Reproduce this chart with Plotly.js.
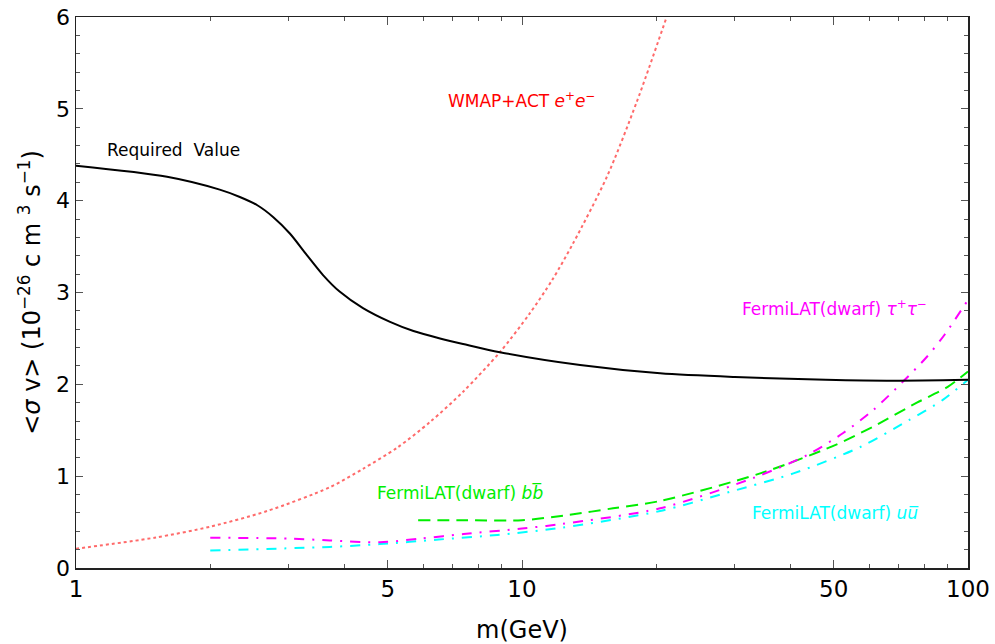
<!DOCTYPE html>
<html>
<head>
<meta charset="utf-8">
<script src="https://cdn.plot.ly/plotly-3.0.1.min.js"></script>
<style>html,body{margin:0;padding:0;background:#fff;}#chart{width:995px;height:644px;}</style>
</head>
<body>
<div id="chart"></div>
<script>
// Required relic value (black solid)
const reqM = [1, 1.6, 2.1, 2.33, 2.55, 2.77, 3.02, 3.29, 3.58, 3.9, 4.4, 5.06, 5.71, 6.55, 7.38, 8.92, 13.5, 20.4, 30, 48, 68, 100];
const reqY = [4.38, 4.26, 4.12, 4.04, 3.95, 3.82, 3.64, 3.41, 3.19, 3.01, 2.83, 2.68, 2.58, 2.50, 2.44, 2.35, 2.21, 2.12, 2.08, 2.05, 2.04, 2.05];

// WMAP+ACT e+e- (red dotted)
const wmapM = [1, 1.5, 2.0, 2.68, 3.71, 4.4, 5.25, 6.22, 7.38, 8.92, 10.4, 11.7, 13.0, 15.5, 18.1, 21.1];
const wmapY = [0.21, 0.33, 0.45, 0.62, 0.88, 1.08, 1.31, 1.59, 1.92, 2.35, 2.77, 3.14, 3.53, 4.26, 5.08, 6.0];

// FermiLAT dwarf b bbar (green dashed)
const bbM = [5.85, 7.5, 10, 12.8, 16, 20.4, 34.2, 49.9, 61.3, 76.8, 89.9, 100];
const bbY = [0.52, 0.52, 0.52, 0.58, 0.65, 0.73, 1.03, 1.33, 1.54, 1.80, 1.97, 2.14];

// FermiLAT dwarf tau+ tau- (magenta dash-dot)
const tauM = [2.0, 3.0, 3.71, 4.8, 5.9, 7.4, 10, 12.3, 20.4, 33, 43.6, 52.5, 61.3, 71.5, 80.9, 88.6, 100];
const tauY = [0.33, 0.32, 0.30, 0.28, 0.32, 0.37, 0.43, 0.48, 0.65, 0.98, 1.23, 1.47, 1.72, 2.03, 2.30, 2.54, 2.92];

// FermiLAT dwarf u ubar (cyan dash-dot)
const uuM = [2.0, 3.71, 4.8, 6.5, 8.8, 12.3, 20.4, 28.8, 40.6, 57.5, 73.7, 87.8, 100];
const uuY = [0.19, 0.23, 0.26, 0.31, 0.36, 0.44, 0.62, 0.82, 1.03, 1.32, 1.61, 1.83, 2.05];

const xMajor = [1, 5, 10, 50, 100];
const xMajorText = ['1', '5', '10', '50', '100'];
const xMinor = [2, 3, 4, 6, 7, 8, 9, 20, 30, 40, 60, 70, 80, 90];

const FONT = 'DejaVu Sans, sans-serif';

const traces = [
  {x: wmapM, y: wmapY, mode: 'lines', line: {color: '#ff6a6a', width: 2, dash: 'dot', shape: 'spline', smoothing: 0.8}},
  {x: bbM, y: bbY, mode: 'lines', line: {color: '#00ee00', width: 2, dash: '12px,7px', shape: 'spline', smoothing: 0.8}},
  {x: uuM, y: uuY, mode: 'lines', line: {color: '#00ffff', width: 2, dash: '10px,8px,2px,8px', shape: 'spline', smoothing: 0.8}},
  {x: tauM, y: tauY, mode: 'lines', line: {color: '#ff00ff', width: 2, dash: '10px,8px,2px,8px', shape: 'spline', smoothing: 0.8}},
  {x: reqM, y: reqY, mode: 'lines', line: {color: '#000000', width: 2, shape: 'spline', smoothing: 0.8}}
];

const layout = {
  width: 995, height: 644,
  margin: {l: 76, r: 27, t: 17, b: 76},
  paper_bgcolor: '#fff', plot_bgcolor: '#fff',
  showlegend: false,
  font: {family: FONT, color: '#000'},
  xaxis: {
    type: 'log', range: [0, 2],
    tickmode: 'array', tickvals: xMajor, ticktext: xMajorText,
    ticks: 'inside', ticklen: 8, tickwidth: 1, tickcolor: '#555',
    minor: {tickmode: 'array', tickvals: xMinor, ticks: 'inside', ticklen: 4, tickcolor: '#555', showgrid: false},
    showline: true, linecolor: '#222', linewidth: 1.5, mirror: 'allticks',
    showgrid: false, zeroline: false,
    tickfont: {family: FONT, size: 23, color: '#000'},
    title: {text: 'm(GeV)', font: {family: FONT, size: 24, color: '#000'}, standoff: 20}
  },
  yaxis: {
    range: [0, 6], dtick: 1, tick0: 0,
    ticks: 'inside', ticklen: 7, tickwidth: 1, tickcolor: '#555',
    minor: {dtick: 0.2, tick0: 0, ticks: 'inside', ticklen: 4, tickcolor: '#555', showgrid: false},
    showline: true, linecolor: '#222', linewidth: 1.5, mirror: 'allticks',
    showgrid: false, zeroline: false,
    tickfont: {family: FONT, size: 22, color: '#000'},
    title: {text: '&lt;<i>σ</i> v&gt; (10<sup>−26</sup> c m <sup>3</sup> s<sup>−1</sup>)', font: {family: FONT, size: 24, color: '#000'}, standoff: 8}
  },
  annotations: [
    {text: 'Required  Value', x: 0.2197, y: 4.55, xref: 'x', yref: 'y', showarrow: false, font: {family: FONT, size: 17, color: '#000'}},
    {text: 'WMAP+ACT <i>e</i><sup>+</sup><i>e</i><sup>−</sup>', x: 0.998, y: 5.10, xref: 'x', yref: 'y', showarrow: false, font: {family: FONT, size: 17, color: '#ff0000'}},
    {text: 'FermiLAT(dwarf) <i>bb\u0305</i>', x: 0.861, y: 0.82, xref: 'x', yref: 'y', showarrow: false, font: {family: FONT, size: 17, color: '#00ee00'}},
    {text: 'FermiLAT(dwarf) <i>τ</i><sup>+</sup><i>τ</i><sup>−</sup>', x: 1.700, y: 2.83, xref: 'x', yref: 'y', showarrow: false, font: {family: FONT, size: 17, color: '#ff00ff'}},
    {text: 'FermiLAT(dwarf) <i>uu\u0305</i>', x: 1.704, y: 0.60, xref: 'x', yref: 'y', showarrow: false, font: {family: FONT, size: 17, color: '#00ffff'}}
  ]
};

Plotly.newPlot('chart', traces, layout, {displayModeBar: false, staticPlot: true});
</script>
</body>
</html>
